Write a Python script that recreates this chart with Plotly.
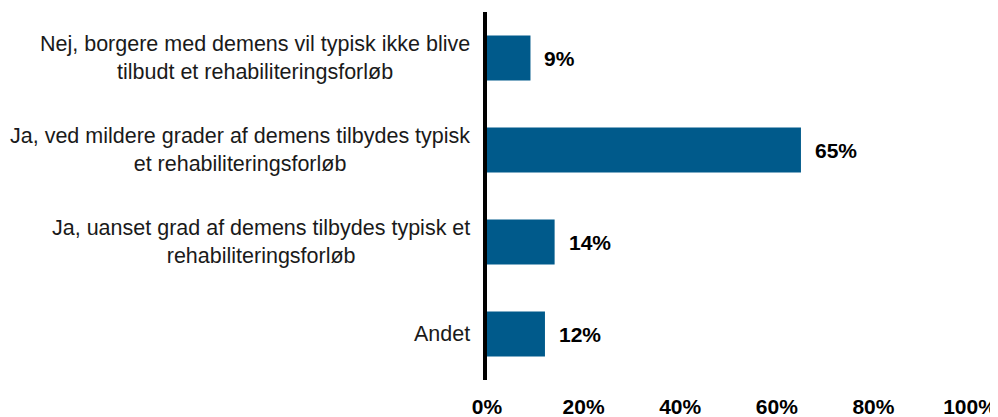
import plotly.graph_objects as go

categories = [
    "Nej, borgere med demens vil typisk ikke blive<br>tilbudt et rehabiliteringsforløb",
    "Ja, ved mildere grader af demens tilbydes typisk<br>et rehabiliteringsforløb",
    "Ja, uanset grad af demens tilbydes typisk et<br>rehabiliteringsforløb",
    "Andet",
]
values = [9, 65, 14, 12]
tick_vals = [0, 20, 40, 60, 80, 100]
tick_text = ["0%", "20%", "40%", "60%", "80%", "100%"]

BAR = "#005A8B"
FONT = "Liberation Sans, Arial, sans-serif"

fig = go.Figure()
fig.add_trace(go.Bar(
    y=categories, x=values, orientation="h",
    marker=dict(color=BAR, line=dict(width=0)),
    width=0.49, hoverinfo="skip",
))

annotations = []
for c, v in zip(categories, values):
    annotations.append(dict(
        x=v, y=c, xref="x", yref="y", text=f"<b>{v}%</b>",
        showarrow=False, xanchor="left", xshift=12,
        font=dict(family=FONT, size=21, color="black"),
    ))
    annotations.append(dict(
        x=0, y=c, xref="paper", yref="y", text=c,
        showarrow=False, xanchor="right", xshift=-15, align="center",
        font=dict(family=FONT, size=21.5, color="#1a1a1a"),
    ))

# page body has an 8px default margin; size the figure to fit the window
fig.update_layout(
    width=990, height=409,
    margin=dict(l=479, r=28, t=4, b=37),
    paper_bgcolor="white", plot_bgcolor="white",
    showlegend=False,
    annotations=annotations,
    xaxis=dict(
        range=[0, 100], tickvals=tick_vals,
        ticktext=[f"<b>{t}</b>" for t in tick_text],
        showgrid=False, zeroline=False, showline=False, ticks="",
        ticklabelstandoff=12,
        tickfont=dict(family=FONT, size=21, color="black"),
        automargin=False, fixedrange=True,
    ),
    yaxis=dict(
        categoryorder="array", categoryarray=categories[::-1],
        range=[-0.5, 3.5], showticklabels=False, ticks="",
        showgrid=False, zeroline=False,
        showline=True, linecolor="black", linewidth=3.5,
        automargin=False, fixedrange=True,
    ),
)

fig.write_html("out.html")
